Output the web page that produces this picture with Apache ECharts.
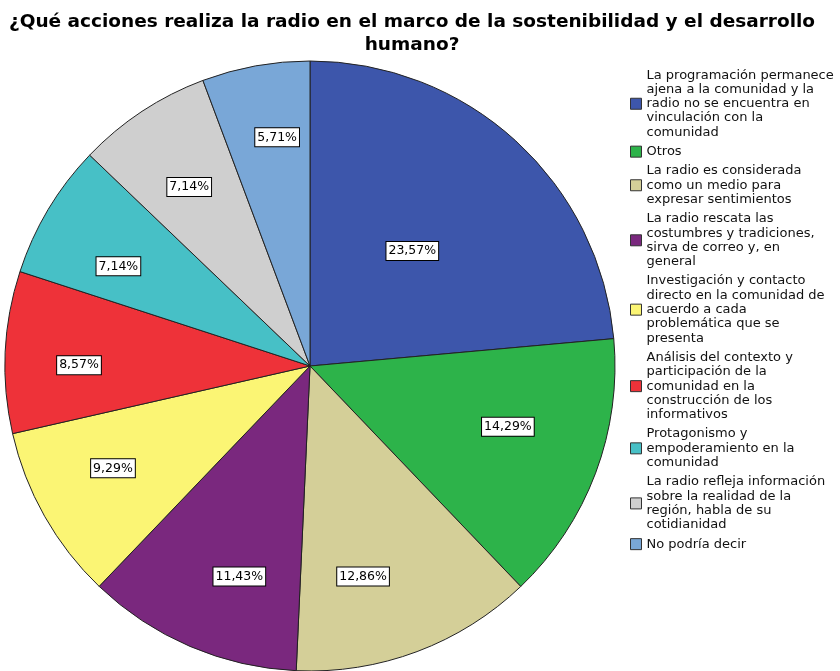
<!DOCTYPE html>
<html>
<head>
<meta charset="utf-8">
<script src="https://cdn.jsdelivr.net/npm/echarts@6/dist/echarts.min.js"></script>
<style>
html,body{margin:0;padding:0;background:#fff;}
#main{width:840px;height:671px;}
</style>
</head>
<body>
<div id="main"></div>
<script>
// categorias (con saltos de linea como en la leyenda original)
var categorias = [
    'La programación permanece\najena a la comunidad y la\nradio no se encuentra en\nvinculación con la\ncomunidad',
    'Otros',
    'La radio es considerada\ncomo un medio para\nexpresar sentimientos',
    'La radio rescata las\ncostumbres y tradiciones,\nsirva de correo y, en\ngeneral',
    'Investigación y contacto\ndirecto en la comunidad de\nacuerdo a cada\nproblemática que se\npresenta',
    'Análisis del contexto y\nparticipación de la\ncomunidad en la\nconstrucción de los\ninformativos',
    'Protagonismo y\nempoderamiento en la\ncomunidad',
    'La radio refleja información\nsobre la realidad de la\nregión, habla de su\ncotidianidad',
    'No podría decir'
];
var porcentajes = [23.57, 14.29, 12.86, 11.43, 9.29, 8.57, 7.14, 7.14, 5.71];
var colores = ['#3d56ab', '#2db34a', '#d4cf98', '#7a287e', '#fbf574', '#ee3239', '#47c0c6', '#cfcfcf', '#79a7d7'];
// colocacion de etiquetas como en el original: distancia al centro (px) y desvio angular (grados)
var distEtiqueta = [154, 207, 217, 222, 222, 231, 216, 216, 231];
var desvioEtiqueta = [-0.8, -3.5, 6.4, -4.6, 2.1, -2.4, -3.4, -0.6, 2.1];

var centro = [310, 366];
var fuente = 'DejaVu Sans, Liberation Sans, Arial, sans-serif';

var myChart = echarts.init(document.getElementById('main'));

var datos = [];
var total = 0;
for (var i = 0; i < categorias.length; i++) {
    datos.push({name: categorias[i], value: porcentajes[i], itemStyle: {color: colores[i]}});
    total += porcentajes[i];
}
// angulo medio de cada porcion (desde arriba, sentido horario)
var angMedio = [];
var acum = 0;
for (var j = 0; j < porcentajes.length; j++) {
    angMedio.push((acum + porcentajes[j] / 2) / total * 360);
    acum += porcentajes[j];
}

var option = {
    animation: false,
    title: {
        text: '¿Qué acciones realiza la radio en el marco de la sostenibilidad y el desarrollo\nhumano?',
        left: 407,
        textAlign: 'center',
        top: 6,
        textStyle: {
            fontFamily: fuente,
            fontSize: 18.5,
            fontWeight: 'bold',
            color: '#000',
            lineHeight: 23
        }
    },
    legend: {
        orient: 'vertical',
        left: 625,
        top: 63,
        itemWidth: 11,
        itemHeight: 11,
        itemGap: 5,
        icon: 'rect',
        selectedMode: false,
        itemStyle: {borderColor: '#333', borderWidth: 1},
        textStyle: {
            fontFamily: fuente,
            fontSize: 13,
            lineHeight: 14.3,
            color: '#111'
        },
        data: categorias
    },
    series: [{
        type: 'pie',
        center: centro,
        radius: 305,
        startAngle: 90,
        clockwise: true,
        avoidLabelOverlap: false,
        itemStyle: {borderColor: '#222', borderWidth: 1},
        emphasis: {disabled: true},
        label: {
            position: 'inside',
            formatter: function (p) {
                return p.value.toFixed(2).replace('.', ',') + '%';
            },
            fontFamily: fuente,
            fontSize: 12.5,
            color: '#000',
            backgroundColor: '#fff',
            borderColor: '#000',
            borderWidth: 1,
            padding: [3, 2, 2, 2]
        },
        labelLine: {show: false},
        labelLayout: function (p) {
            var k = p.dataIndex;
            var a = (angMedio[k] + desvioEtiqueta[k]) * Math.PI / 180;
            return {
                x: centro[0] + distEtiqueta[k] * Math.sin(a),
                y: centro[1] - distEtiqueta[k] * Math.cos(a)
            };
        },
        data: datos
    }]
};

myChart.setOption(option);
</script>
</body>
</html>
